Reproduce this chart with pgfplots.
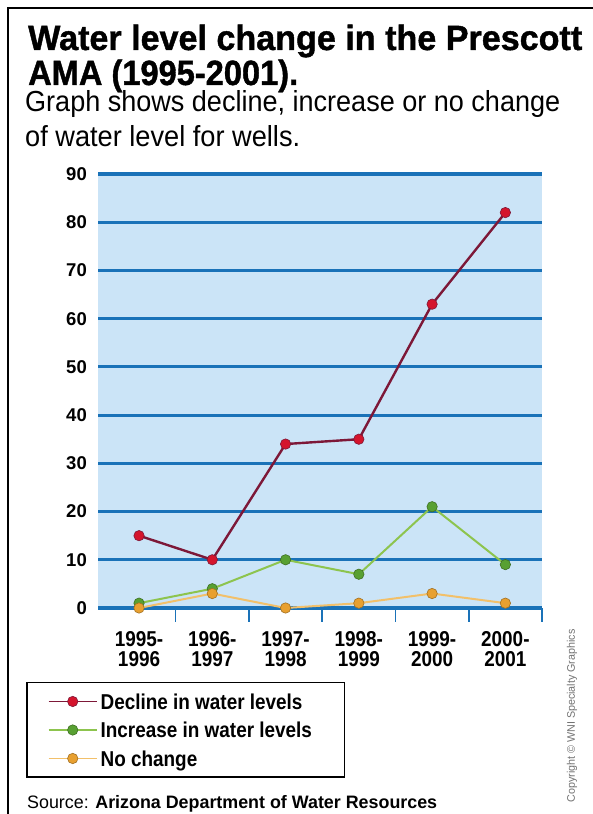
\documentclass[border=0pt]{standalone}
\usepackage{pgfplots}
\pgfplotsset{compat=1.18}
\usepackage{pgfplotstable}
\usepackage{fontspec}
\setmainfont{Liberation Sans}
\newfontfamily\titlefont{Liberation Sans}[BoldFeatures={FakeBold=1.2}]
\newfontfamily\condfont{Liberation Sans}[FakeStretch=0.88]
\definecolor{bgblue}{HTML}{CBE4F7}
\definecolor{gridblue}{HTML}{1A72B8}
\definecolor{decl}{HTML}{7D1838}
\definecolor{declm}{HTML}{D4142C}
\definecolor{incr}{HTML}{8DC44E}
\definecolor{incrm}{HTML}{58A032}
\definecolor{noch}{HTML}{F2C06A}
\definecolor{nochm}{HTML}{E8A030}

\pgfplotstableread{
x decline increase nochange
0 15 1 0
1 10 4 3
2 34 10 0
3 35 7 1
4 63 21 3
5 82 9 1
}\datatable

\begin{document}
\begin{tikzpicture}
\useasboundingbox (0,0) rectangle (593bp,814bp);
\fill[white] (0,0) rectangle (593bp,814bp);
\draw[black, line width=2bp] (8bp,0) -- (8bp,806bp) -- (593bp,806bp);
\node[anchor=base west, inner sep=0pt] at (28bp,764bp) {\resizebox{554bp}{\height}{\titlefont\bfseries\fontsize{35bp}{35bp}\selectfont Water level change in the Prescott}};
\node[anchor=base west, inner sep=0pt] at (28bp,729bp) {\resizebox{270bp}{\height}{\titlefont\bfseries\fontsize{35bp}{35bp}\selectfont AMA (1995-2001).}};
\node[anchor=base west, inner sep=0pt] at (25bp,702bp) {\resizebox{535bp}{\height}{\fontsize{29bp}{29bp}\selectfont Graph shows decline, increase or no change}};
\node[anchor=base west, inner sep=0pt] at (25bp,667bp) {\resizebox{275bp}{\height}{\fontsize{29bp}{29bp}\selectfont of water level for wells.}};
\node[anchor=base west, inner sep=0pt] at (27bp,6bp) {\resizebox{410bp}{\height}{\fontsize{18bp}{18bp}\selectfont Source: \textbf{Arizona Department of Water Resources}}};
\node[rotate=90, inner sep=0pt, text=black!55] at (572bp,98bp) {\resizebox{173bp}{\height}{\fontsize{11bp}{11bp}\selectfont Copyright \textcopyright{} WNI Specialty Graphics}};

\begin{axis}[
  at={(98bp,206bp)}, anchor=south west,
  scale only axis, width=444bp, height=434bp,
  xmin=-0.56, xmax=5.5, ymin=0, ymax=90,
  clip=false,
  axis background/.style={fill=bgblue},
  axis line style={draw=none},
  ymajorgrids, grid style={gridblue, line width=3.2bp},
  ytick={0,10,...,90},
  xtick={0,...,5},
  xtick pos=left,
  xticklabels={{1995-\\1996},{1996-\\1997},{1997-\\1998},{1998-\\1999},{1999-\\2000},{2000-\\2001}},
  major tick length=0pt,
  extra x ticks={0.5,1.5,2.5,3.5,4.5,5.5},
  extra x tick labels={},
  extra x tick style={xtick pos=left, tick align=outside, major tick length=14bp, tick style={gridblue, line width=1.6bp}},
  /pgf/number format/assume math mode=true,
  yticklabel style={font=\bfseries\fontsize{18.5bp}{18.5bp}\selectfont, inner sep=0pt, xshift=-11bp},
  xticklabel style={font=\condfont\bfseries\fontsize{21.5bp}{20bp}\selectfont, align=center, inner sep=0pt, yshift=-23.6bp},
  legend image code/.code={
    \draw[line width=1.8bp] (0bp,0bp) -- (48bp,0bp);
    \path plot[only marks] coordinates {(24bp,0bp)};
  },
  legend style={at={(-0.162,-0.1705)}, anchor=north west, draw=black, line width=1.5bp, fill=white,
    inner xsep=21bp, inner ysep=4.5bp, /tikz/column sep=3bp,
    nodes={inner sep=0pt, text height=21.95bp, text depth=6.55bp, font=\condfont\bfseries\fontsize{21.5bp}{21.5bp}\selectfont}},
  legend cell align=left,
]
\addplot[decl, line width=2.4bp, mark=*, mark size=5.2bp, mark options={fill=declm, draw=decl, line width=0.6bp}] table[x=x,y=decline]{\datatable};
\addlegendentry{\makebox[223bp][l]{Decline in water levels}}
\addplot[incr, line width=2bp, mark=*, mark size=5.2bp, mark options={fill=incrm, draw=incrm!70!black, line width=0.6bp}] table[x=x,y=increase]{\datatable};
\addlegendentry{\makebox[223bp][l]{Increase in water levels}}
\addplot[noch, line width=2bp, mark=*, mark size=5.2bp, mark options={fill=nochm, draw=nochm!70!black, line width=0.6bp}] table[x=x,y=nochange]{\datatable};
\addlegendentry{\makebox[223bp][l]{No change}}
\end{axis}
\fill[white] (27.6bp,104bp) rectangle (46bp,124bp);
\end{tikzpicture}
\end{document}
